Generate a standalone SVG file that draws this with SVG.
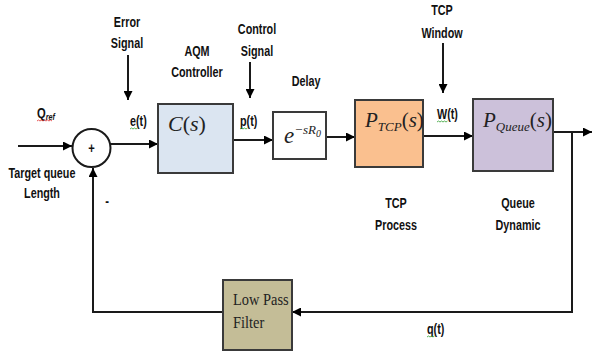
<svg xmlns="http://www.w3.org/2000/svg" width="593" height="354" viewBox="0 0 593 354">
<style>
.lbl{font-family:"Liberation Sans",Arial,sans-serif;font-weight:bold;font-size:14px;fill:#111;text-anchor:middle}
.lbl2{font-family:"Liberation Sans",Arial,sans-serif;font-weight:bold;font-size:14px;fill:#111}
.math{font-family:"Liberation Serif","Times New Roman",serif;font-style:italic;fill:#222}
.up{font-style:normal}
.box{stroke:#3a3a3a;stroke-width:2}
.wire{fill:none;stroke:#1a1a1a;stroke-width:2}
.sq{fill:none;stroke-width:0.8}
.serif{font-family:"Liberation Serif","Times New Roman",serif;font-size:16px;fill:#222}
</style>
<defs>
<marker id="ah" viewBox="0 0 10 10" refX="10" refY="5" markerWidth="4.5" markerHeight="4.5" orient="auto" markerUnits="strokeWidth">
<path d="M0,0 L10,5 L0,10 z" fill="#000"/>
</marker>
</defs>
<rect width="593" height="354" fill="#fff"/>
<g id="connectors">
<line class="wire" x1="18" y1="146" x2="72" y2="146" marker-end="url(#ah)"/>
<line class="wire" x1="110" y1="144" x2="158" y2="144" marker-end="url(#ah)"/>
<line class="wire" x1="233" y1="140" x2="273" y2="140" marker-end="url(#ah)"/>
<line class="wire" x1="326" y1="137" x2="355" y2="137" marker-end="url(#ah)"/>
<line class="wire" x1="423" y1="136" x2="473" y2="136" marker-end="url(#ah)"/>
<line class="wire" x1="553" y1="132" x2="592" y2="132" marker-end="url(#ah)"/>
<polyline class="wire" points="572,132 572,312 292,312" marker-end="url(#ah)"/>
<polyline class="wire" points="223,312 93,312 93,168" marker-end="url(#ah)"/>
<line class="wire" x1="128" y1="55" x2="128" y2="100" marker-end="url(#ah)"/>
<line class="wire" x1="250" y1="62" x2="250" y2="98" marker-end="url(#ah)"/>
<line class="wire" x1="443" y1="43" x2="443" y2="93" marker-end="url(#ah)"/>
</g>
<g id="sum">
<circle cx="91.5" cy="148" r="19" fill="#fff" stroke="#1a1a1a" stroke-width="2"/>
<text class="lbl" transform="translate(91.5,153) scale(0.8,1)">+</text>
<text class="lbl" transform="translate(107,206) scale(0.8,1)">-</text>
</g>
<g id="controller">
<rect class="box" x="158" y="104" width="75" height="69" fill="#dbe5f1"/>
<text class="math" x="168" y="131" font-size="22">C<tspan class="up">(</tspan>s<tspan class="up">)</tspan></text>
</g>
<g id="delay">
<rect class="box" x="273" y="112" width="53" height="47" fill="#fff"/>
<text class="math" x="284" y="143" font-size="23">e<tspan font-size="13" dy="-9">−sR</tspan><tspan font-size="10" dy="3">0</tspan></text>
</g>
<g id="tcp">
<rect class="box" x="355" y="100" width="68" height="67" fill="#fac08f"/>
<text class="math" x="365" y="127" font-size="21">P<tspan font-size="13" dy="4">TCP</tspan><tspan class="up" dy="-4">(</tspan>s<tspan class="up">)</tspan></text>
</g>
<g id="queue">
<rect class="box" x="473" y="99" width="80" height="72" fill="#ccc1da"/>
<text class="math" x="483" y="127" font-size="21">P<tspan font-size="13" dy="4">Queue</tspan><tspan class="up" dy="-4">(</tspan>s<tspan class="up">)</tspan></text>
</g>
<g id="lpf">
<rect class="box" x="223" y="280" width="69" height="70" fill="#c4bd97"/>
<text class="serif" transform="translate(233,305) scale(0.9,1)">Low Pass</text>
<text class="serif" transform="translate(233,328) scale(0.9,1)">Filter</text>
</g>
<g id="labels">
<text class="lbl" transform="translate(127,27) scale(0.77,1)">Error</text>
<text class="lbl" transform="translate(127,48) scale(0.77,1)">Signal</text>
<text class="lbl" transform="translate(197,56) scale(0.77,1)">AQM</text>
<text class="lbl" transform="translate(197,77) scale(0.77,1)">Controller</text>
<text class="lbl" transform="translate(257,34) scale(0.77,1)">Control</text>
<text class="lbl" transform="translate(257,56) scale(0.77,1)">Signal</text>
<text class="lbl" transform="translate(306,86) scale(0.77,1)">Delay</text>
<text class="lbl" transform="translate(442,15) scale(0.77,1)">TCP</text>
<text class="lbl" transform="translate(442,38) scale(0.77,1)">Window</text>
<text class="lbl" transform="translate(396,208) scale(0.77,1)">TCP</text>
<text class="lbl" transform="translate(396,230) scale(0.77,1)">Process</text>
<text class="lbl" transform="translate(518,208) scale(0.77,1)">Queue</text>
<text class="lbl" transform="translate(518,230) scale(0.77,1)">Dynamic</text>
<text class="lbl" transform="translate(42,178) scale(0.77,1)">Target queue</text>
<text class="lbl" transform="translate(42,198) scale(0.77,1)">Length</text>
<text class="lbl2" transform="translate(37,118) scale(0.8,1)">Q<tspan font-size="9" font-style="italic" dy="2">ref</tspan></text>
<text class="lbl2" transform="translate(130,126) scale(0.77,1)">e(t)</text>
<text class="lbl2" transform="translate(240,126) scale(0.77,1)">p(t)</text>
<text class="lbl2" transform="translate(437,119) scale(0.77,1)">W(t)</text>
<text class="lbl2" transform="translate(427,334) scale(0.77,1)">q(t)</text>
</g>
<g id="squiggles">
<path class="sq" stroke="#e03030" d="M37,121 l1.5,-1 l1.5,1 l1.5,-1 l1.5,1 l1.5,-1 l1.5,1 l1.5,-1 l1.5,1 l1.5,-1 l1.5,1"/>
<path class="sq" stroke="#30a030" d="M130,129 l1.5,-1 l1.5,1 l1.5,-1 l1.5,1 l1.5,-1"/>
<path class="sq" stroke="#30a030" d="M240,129 l1.5,-1 l1.5,1 l1.5,-1 l1.5,1 l1.5,-1"/>
<path class="sq" stroke="#30a030" d="M437,122 l1.5,-1 l1.5,1 l1.5,-1 l1.5,1 l1.5,-1 l1.5,1 l1.5,-1"/>
<path class="sq" stroke="#30a030" d="M427,337 l1.5,-1 l1.5,1 l1.5,-1 l1.5,1 l1.5,-1"/>
</g>
</svg>
